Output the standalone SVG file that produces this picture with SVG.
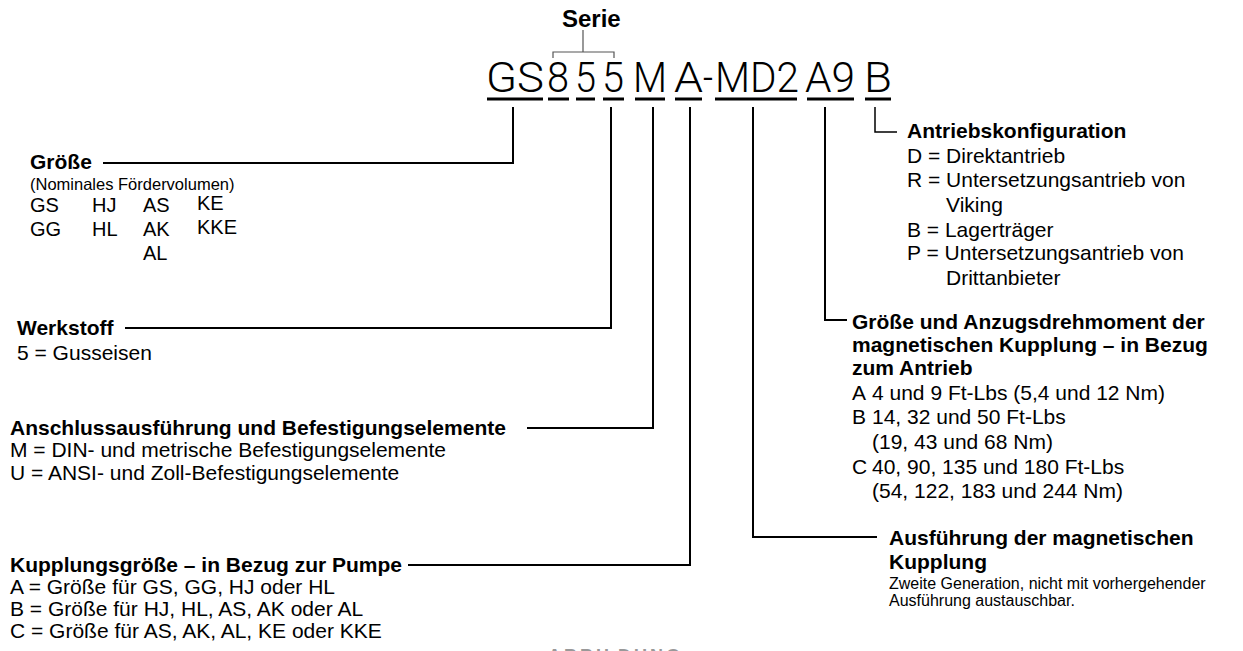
<svg xmlns="http://www.w3.org/2000/svg" width="1243" height="651" viewBox="0 0 1243 651">
<style>
text{font-family:"Liberation Sans",Arial,sans-serif;fill:#000}
.h{font-weight:bold;font-size:21px}
.b{font-size:21px}
.s{font-size:16px}
.code{font-family:Roboto,"Liberation Sans",sans-serif;font-weight:300;font-size:42px}
.ser{font-weight:bold;font-size:24px}
.lead{fill:none;stroke:#000;stroke-width:2}
.thin{fill:none;stroke:#000;stroke-width:1.5}
.ul{fill:#000}
</style>
<rect width="1243" height="651" fill="#fff"/>

<g id="code">
<text class="ser" x="562" y="27">Serie</text>
<path d="M583 30V52M553 58V52H614V58" fill="none" stroke="#555" stroke-width="1.2"/>
<text class="code" x="486" y="92" textLength="58" lengthAdjust="spacingAndGlyphs">GS</text>
<text class="code" x="547" y="92" textLength="22" lengthAdjust="spacingAndGlyphs">8</text>
<text class="code" x="575" y="92" textLength="21" lengthAdjust="spacingAndGlyphs">5</text>
<text class="code" x="602" y="92" textLength="22" lengthAdjust="spacingAndGlyphs">5</text>
<text class="code" x="633" y="92" textLength="34" lengthAdjust="spacingAndGlyphs">M</text>
<text class="code" x="674" y="92" textLength="29" lengthAdjust="spacingAndGlyphs">A</text>
<text class="code" x="703" y="92" textLength="10" lengthAdjust="spacingAndGlyphs">-</text>
<text class="code" x="715" y="92" textLength="84" lengthAdjust="spacingAndGlyphs">MD2</text>
<text class="code" x="805" y="92" textLength="50" lengthAdjust="spacingAndGlyphs">A9</text>
<text class="code" x="864" y="92" textLength="28" lengthAdjust="spacingAndGlyphs">B</text>
<rect class="ul" x="487" y="97.5" width="56" height="3"/>
<rect class="ul" x="548" y="97.5" width="21" height="3"/>
<rect class="ul" x="576" y="97.5" width="19" height="3"/>
<rect class="ul" x="603" y="97.5" width="21" height="3"/>
<rect class="ul" x="635" y="97.5" width="30" height="3"/>
<rect class="ul" x="675" y="97.5" width="27" height="3"/>
<rect class="ul" x="715" y="97.5" width="82" height="3"/>
<rect class="ul" x="807" y="97.5" width="47" height="3"/>
<rect class="ul" x="865" y="97.5" width="26" height="3"/>
</g>

<g id="connectors">
<path class="lead" d="M513 107V163H103"/>
<path class="lead" d="M611 107V328H125"/>
<path class="lead" d="M653 107V428H527"/>
<path class="lead" d="M690 107V565H408"/>
<path class="lead" d="M753 107V537H877"/>
<path class="lead" d="M825 107V320H847"/>
<path class="thin" d="M875 107V132H897"/>
</g>

<g id="groesse">
<text class="h" x="30" y="169">Größe</text>
<text x="30" y="190" style="font-size:16.5px">(Nominales Fördervolumen)</text>
<text class="b" x="30" y="212" style="font-size:20px">GS</text>
<text class="b" x="92" y="212" style="font-size:20px">HJ</text>
<text class="b" x="143" y="212" style="font-size:20px">AS</text>
<text class="b" x="197" y="210" style="font-size:20px">KE</text>
<text class="b" x="30" y="236" style="font-size:20px">GG</text>
<text class="b" x="92" y="236" style="font-size:20px">HL</text>
<text class="b" x="143" y="236" style="font-size:20px">AK</text>
<text class="b" x="197" y="234" style="font-size:20px">KKE</text>
<text class="b" x="143" y="260" style="font-size:20px">AL</text>
</g>

<g id="werkstoff">
<text class="h" x="17" y="335">Werkstoff</text>
<text class="b" x="17" y="360">5 = Gusseisen</text>
</g>

<g id="anschluss">
<text class="h" x="10" y="435">Anschlussausführung und Befestigungselemente</text>
<text class="b" x="10" y="457">M = DIN- und metrische Befestigungselemente</text>
<text class="b" x="10" y="480">U = ANSI- und Zoll-Befestigungselemente</text>
</g>

<g id="kupplungsgroesse">
<text class="h" x="10" y="572">Kupplungsgröße – in Bezug zur Pumpe</text>
<text class="b" x="10" y="594">A = Größe für GS, GG, HJ oder HL</text>
<text class="b" x="10" y="616">B = Größe für HJ, HL, AS, AK oder AL</text>
<text class="b" x="10" y="638">C = Größe für AS, AK, AL, KE oder KKE</text>
</g>

<g id="antrieb">
<text class="h" x="907" y="138">Antriebskonfiguration</text>
<text class="b" x="907" y="163">D = Direktantrieb</text>
<text class="b" x="907" y="187">R = Untersetzungsantrieb von</text>
<text class="b" x="946" y="212">Viking</text>
<text class="b" x="907" y="237">B = Lagerträger</text>
<text class="b" x="907" y="260">P = Untersetzungsantrieb von</text>
<text class="b" x="946" y="285">Drittanbieter</text>
</g>

<g id="drehmoment">
<text class="h" x="852" y="329">Größe und Anzugsdrehmoment der</text>
<text class="h" x="852" y="352">magnetischen Kupplung – in Bezug</text>
<text class="h" x="852" y="375">zum Antrieb</text>
<text class="b" x="852" y="400">A</text>
<text class="b" x="872" y="400">4 und 9 Ft-Lbs (5,4 und 12 Nm)</text>
<text class="b" x="852" y="424">B</text>
<text class="b" x="872" y="424">14, 32 und 50 Ft-Lbs</text>
<text class="b" x="872" y="449">(19, 43 und 68 Nm)</text>
<text class="b" x="852" y="474">C</text>
<text class="b" x="872" y="474">40, 90, 135 und 180 Ft-Lbs</text>
<text class="b" x="872" y="498">(54, 122, 183 und 244 Nm)</text>
</g>

<g id="ausfuehrung">
<text class="h" x="889" y="545">Ausführung der magnetischen</text>
<text class="h" x="889" y="569">Kupplung</text>
<text class="s" x="889" y="589">Zweite Generation, nicht mit vorhergehender</text>
<text class="s" x="889" y="606">Ausführung austauschbar.</text>
</g>

<text x="548" y="662" style="font-weight:bold;font-size:18px;letter-spacing:3px;fill:#999">ABBILDUNG</text>
</svg>
